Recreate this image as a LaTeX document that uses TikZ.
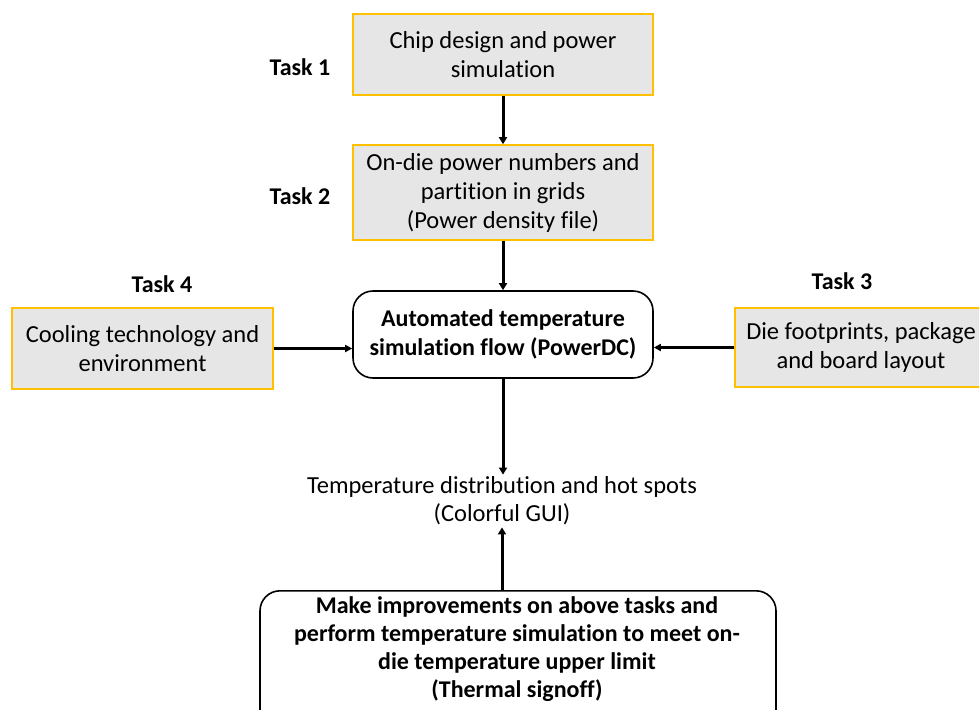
\documentclass[tikz,border=0pt]{standalone}
\usepackage{fontspec}
\setmainfont[Ligatures=NoCommon]{Carlito}
\usetikzlibrary{arrows.meta}
\definecolor{boxgray}{HTML}{E6E6E6}
\definecolor{boxyellow}{HTML}{FFC000}
\tikzset{
  taskbox/.style={draw=boxyellow, line width=1.6pt, fill=boxgray, align=center, inner sep=0pt, font=\fontsize{24.5}{29}\selectfont},
  flowbox/.style={draw=black, line width=1.6pt, rounded corners=20pt, align=center, inner sep=0pt, font=\bfseries\fontsize{24}{29}\selectfont},
  tasklabel/.style={font=\bfseries\fontsize{24}{28}\selectfont},
  bigarrow/.style={line width=3pt, -{Triangle[length=7pt,width=8pt]}},
  sidearrow/.style={line width=2.2pt, -{Triangle[length=7pt,width=7pt]}}
}
\begin{document}
\begin{tikzpicture}[x=1pt,y=1pt]
\useasboundingbox (0,0) rectangle (979,-709);
\node[taskbox, minimum width=300, minimum height=81] (chip) at (503,-54.5) {Chip design and power\\simulation};
\node[taskbox, minimum width=300, minimum height=95] (power) at (503,-192.5) {On-die power numbers and\\partition in grids\\(Power density file)};
\node[flowbox, minimum width=300, minimum height=87] (flow) at (503,-334.5) {Automated temperature\\simulation flow (PowerDC)};
\node[taskbox, minimum width=261, minimum height=81] (cool) at (142.5,-348.5) {Cooling technology and\\environment};
\node[taskbox, minimum width=252, minimum height=79] (die) at (861,-347.5) {Die footprints, package\\and board layout};
\node[font=\fontsize{24.5}{28}\selectfont, align=center, inner sep=2pt] (temp) at (502,-501) {Temperature distribution and hot spots\\(Colorful GUI)};
\node[flowbox, minimum width=516, minimum height=140, anchor=north] (improve) at (518,-590) {};
\node[font=\bfseries\fontsize{24}{28}\selectfont, align=center, anchor=north] (improvetext) at (517,-593) {Make improvements on above tasks and\\perform temperature simulation to meet on-\\die temperature upper limit\\(Thermal signoff)};
\node[tasklabel] (t1) at (300,-67) {Task 1};
\node[tasklabel] (t2) at (300,-196) {Task 2};
\node[tasklabel] (t4) at (162,-284) {Task 4};
\node[tasklabel] (t3) at (842,-281) {Task 3};
\draw[bigarrow] (chip.south) -- (power.north);
\draw[bigarrow] (power.south) -- (flow.north);
\draw[sidearrow] (cool.east) -- (cool.east -| flow.west);
\draw[sidearrow] (die.west) -- (die.west -| flow.east);
\draw[bigarrow] (flow.south) -- (flow.south |- temp.north);
\draw[bigarrow] (temp.south |- improve.north) -- (temp.south);
\end{tikzpicture}
\end{document}
